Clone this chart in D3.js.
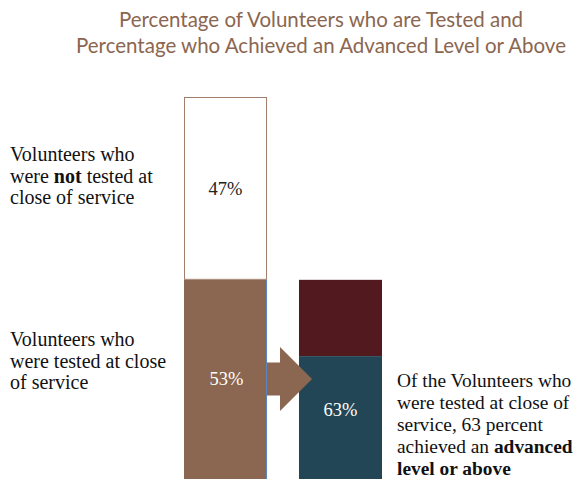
<!DOCTYPE html>
<html>
<head>
<meta charset="utf-8">
<script src="https://cdn.jsdelivr.net/npm/d3@7"></script>
<style>
  html, body { margin: 0; padding: 0; background: #fff; }
  svg { display: block; }
</style>
</head>
<body>
<svg id="chart" width="578" height="479"></svg>
<script>
// Share of Volunteers tested at close of service, and of those tested,
// the share reaching an advanced level or above.
const bars = ["all", "tested"];
const testedShare = [53, 47];          // tested, not tested (percent of all)
const advancedShare = [63, 37];        // advanced or above, below advanced (percent of tested)
const valueLabels = ["47%", "53%", "63%"];
const titleLines = [
  "Percentage of Volunteers who are Tested and",
  "Percentage who Achieved an Advanced Level or Above"
];
const leftLabelTop = [["Volunteers who"], ["were ", {b: "not"}, " tested at"], ["close of service"]];
const leftLabelBottom = [["Volunteers who"], ["were tested at close"], ["of service"]];
const rightLabel = [
  ["Of the Volunteers who"],
  ["were tested at close of"],
  ["service, 63 percent"],
  ["achieved an ", {b: "advanced"}],
  [{b: "level or above"}]
];

const colors = {
  brown: "#8b6650",
  border: "#a07e6b",
  maroon: "#521a1e",
  teal: "#224655",
  title: "#8b6650",
  edge: "#5b87c2"
};

const svg = d3.select("#chart");

const x = d3.scaleBand().domain(bars).range([184, 382]).paddingInner(0.278).paddingOuter(0);
const y = d3.scaleLinear().domain([0, 100]).range([486, 97]);

// Title
svg.append("g").selectAll("text").data(titleLines).join("text")
  .attr("x", 321).attr("y", (d, i) => 27 + i * 26)
  .attr("text-anchor", "middle")
  .attr("font-family", "Lato, 'Open Sans', sans-serif")
  .attr("font-size", 20.5)
  .attr("fill", colors.title)
  .text(d => d);

// Left bar: tested (bottom) and not tested (top)
const tested = testedShare[0], notTested = testedShare[1];
svg.append("rect")
  .attr("x", x("all")).attr("width", x.bandwidth())
  .attr("y", y(tested)).attr("height", y(0) - y(tested))
  .attr("fill", colors.brown);
svg.append("rect")
  .attr("x", x("all") + 0.5).attr("width", x.bandwidth() - 1)
  .attr("y", y(tested + notTested) + 0.5).attr("height", y(tested) - y(tested + notTested) - 1)
  .attr("fill", "#fff").attr("stroke", colors.border).attr("stroke-width", 1);
svg.append("line")
  .attr("x1", x("all") + x.bandwidth() - 0.5).attr("x2", x("all") + x.bandwidth() - 0.5)
  .attr("y1", y(tested)).attr("y2", y(0))
  .attr("stroke", colors.edge).attr("stroke-width", 1);

// Right bar: the tested group split by level, drawn at the tested height
const adv = tested * advancedShare[0] / 100;
svg.append("rect")
  .attr("x", x("tested")).attr("width", x.bandwidth())
  .attr("y", y(tested)).attr("height", y(adv) - y(tested))
  .attr("fill", colors.maroon);
svg.append("rect")
  .attr("x", x("tested")).attr("width", x.bandwidth())
  .attr("y", y(adv)).attr("height", y(0) - y(adv))
  .attr("fill", colors.teal);

// Arrow from the tested segment to the right bar
const ax0 = x("all") + x.bandwidth();
const ay = (y(tested) + y(0)) / 2 - 4;
const arrow = [
  [ax0, ay - 16.5], [ax0 + 13, ay - 16.5], [ax0 + 13, ay - 32],
  [ax0 + 45, ay], [ax0 + 13, ay + 32], [ax0 + 13, ay + 16.5], [ax0, ay + 16.5]
];
svg.append("path")
  .attr("d", d3.line()(arrow) + "Z")
  .attr("fill", colors.brown);

// Value labels
const serif = "'Liberation Serif', 'Times New Roman', serif";
const cx = x("all") + x.bandwidth() / 2;
svg.append("text").attr("x", cx).attr("y", (y(tested + notTested) + y(tested)) / 2 + 7)
  .attr("text-anchor", "middle").attr("font-family", serif).attr("font-size", 18.5)
  .attr("fill", "#222").text(valueLabels[0]);
svg.append("text").attr("x", cx + 1).attr("y", ay + 6.5)
  .attr("text-anchor", "middle").attr("font-family", serif).attr("font-size", 18.5)
  .attr("fill", "#fff").text(valueLabels[1]);
svg.append("text").attr("x", x("tested") + x.bandwidth() / 2).attr("y", ay + 37.5)
  .attr("text-anchor", "middle").attr("font-family", serif).attr("font-size", 18.5)
  .attr("fill", "#fff").text(valueLabels[2]);

// Multi-line descriptive labels with bold runs
function block(lines, x0, y0, lh, size) {
  const t = svg.append("text")
    .attr("font-family", serif).attr("font-size", size).attr("fill", "#111");
  lines.forEach((parts, i) => {
    parts.forEach((p, j) => {
      const s = t.append("tspan").text(typeof p === "string" ? p : p.b);
      if (j === 0) s.attr("x", x0).attr("y", y0 + i * lh);
      if (typeof p !== "string") s.attr("font-weight", "bold");
    });
  });
}
block(leftLabelTop, 10, 161, 21.5, 20);
block(leftLabelBottom, 10, 346, 21.5, 20);
block(rightLabel, 397, 387, 22, 19.4);
</script>
</body>
</html>
